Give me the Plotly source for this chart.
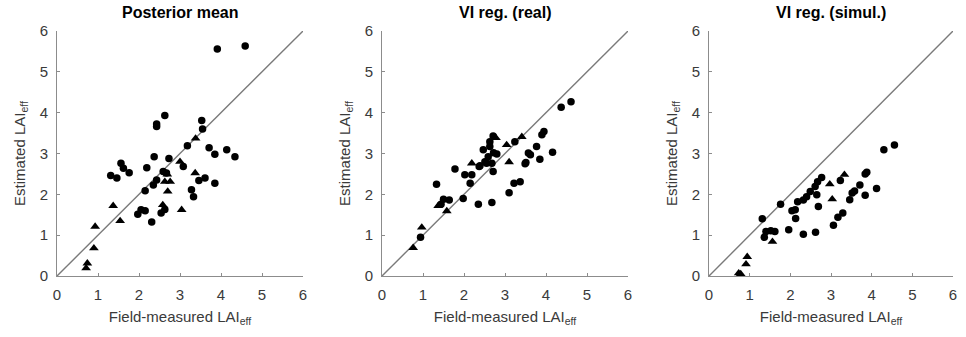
import plotly.graph_objects as go

titles = ["Posterior mean", "VI reg. (real)", "VI reg. (simul.)"]
tick_vals = [0, 1, 2, 3, 4, 5, 6]
tick_text = ["0", "1", "2", "3", "4", "5", "6"]

# Panel 1: Posterior mean
p1_circ_x = [3.91, 4.59, 2.63, 2.43, 2.43, 3.53, 3.55, 3.18, 3.71, 3.85, 4.14, 4.34, 2.37, 2.73,
             3.08, 1.56, 1.62, 1.76, 1.31, 1.46, 2.19, 2.59, 2.67, 3.46, 3.61, 3.85, 2.43, 2.35,
             2.15, 3.28, 3.33, 2.05, 2.15, 1.97, 2.63, 2.54, 2.31]
p1_circ_y = [5.56, 5.63, 3.93, 3.72, 3.66, 3.81, 3.60, 3.19, 3.14, 2.98, 3.09, 2.92, 2.92, 2.88,
             2.68, 2.76, 2.64, 2.53, 2.46, 2.40, 2.65, 2.56, 2.52, 2.34, 2.40, 2.27, 2.35, 2.23,
             2.09, 2.11, 1.94, 1.62, 1.60, 1.51, 1.63, 1.54, 1.32]
p1_tri_x = [3.38, 2.69, 3.37, 2.63, 2.76, 2.70, 1.37, 2.58, 3.04, 1.54, 0.93, 0.90, 0.74, 0.71, 3.00]
p1_tri_y = [3.37, 2.49, 2.52, 2.31, 2.31, 2.07, 1.72, 1.74, 1.62, 1.35, 1.21, 0.68, 0.31, 0.19, 2.80]

# Panel 2: VI reg. (real)
p2_circ_x = [4.61, 4.37, 3.95, 3.90, 3.24, 2.71, 2.63, 2.63, 2.47, 3.77, 4.16, 3.57, 3.62, 2.59,
             2.80, 2.72, 3.85, 3.51, 3.49, 2.51, 2.68, 2.55, 2.39, 2.37, 2.71, 1.78, 2.02, 2.19,
             2.15, 1.33, 3.37, 3.22, 3.10, 1.98, 1.50, 1.64, 1.44, 2.35, 2.68, 0.94]
p2_circ_y = [4.27, 4.13, 3.54, 3.46, 3.29, 3.43, 3.29, 3.17, 3.09, 3.17, 3.03, 3.01, 2.97, 2.92,
             2.99, 3.02, 2.86, 2.78, 2.75, 2.80, 2.76, 2.76, 2.70, 2.68, 2.56, 2.62, 2.48, 2.48,
             2.27, 2.25, 2.31, 2.27, 2.04, 1.90, 1.88, 1.86, 1.76, 1.76, 1.80, 0.95]
p2_tri_x = [3.41, 3.04, 2.78, 3.10, 2.19, 1.37, 1.58, 0.97, 0.76]
p2_tri_y = [3.41, 3.21, 3.38, 2.79, 2.76, 1.72, 1.59, 1.19, 0.69]

# Panel 3: VI reg. (simul.)
p3_circ_x = [4.56, 4.30, 3.88, 3.84, 3.23, 3.71, 3.58, 3.52, 4.12, 3.84, 3.46, 3.29, 3.17, 3.06,
             2.77, 2.67, 2.61, 2.49, 2.65, 2.40, 2.32, 2.18, 2.69, 2.04, 2.12, 2.13, 1.76, 1.31,
             1.96, 2.32, 2.62, 1.40, 1.52, 1.62, 1.36]
p3_circ_y = [3.21, 3.09, 2.54, 2.50, 2.34, 2.23, 2.08, 2.03, 2.14, 1.98, 1.87, 1.54, 1.44, 1.24,
             2.41, 2.31, 2.19, 2.07, 1.99, 1.94, 1.86, 1.82, 1.70, 1.60, 1.62, 1.41, 1.76, 1.40,
             1.13, 1.02, 1.07, 1.09, 1.11, 1.09, 0.95]
p3_tri_x = [3.33, 2.97, 3.03, 1.56, 0.94, 0.91, 0.73, 0.78]
p3_tri_y = [2.48, 2.25, 1.88, 0.84, 0.47, 0.29, 0.07, 0.05]

line_vals = [0, 6]

panels = [
    (p1_circ_x, p1_circ_y, p1_tri_x, p1_tri_y),
    (p2_circ_x, p2_circ_y, p2_tri_x, p2_tri_y),
    (p3_circ_x, p3_circ_y, p3_tri_x, p3_tri_y),
]

W, H = 966, 337
x_px = [(57, 303), (382, 628), (709, 953)]
y_px = (31, 276)

fig = go.Figure()
font_family = "Liberation Sans, Arial, sans-serif"
axis_color = "#8c8c8c"
text_color = "#3a3a3a"

for i, (cx, cy, tx, ty) in enumerate(panels):
    n = "" if i == 0 else str(i + 1)
    xa, ya = "x" + n, "y" + n
    fig.add_trace(go.Scatter(x=line_vals, y=line_vals, mode="lines",
                             line=dict(color="#7a7a7a", width=1.4),
                             xaxis=xa, yaxis=ya, showlegend=False, hoverinfo="skip"))
    fig.add_trace(go.Scatter(x=cx, y=cy, mode="markers",
                             marker=dict(symbol="circle", size=7.5, color="black"),
                             xaxis=xa, yaxis=ya, showlegend=False))
    fig.add_trace(go.Scatter(x=tx, y=ty, mode="markers",
                             marker=dict(symbol="triangle-up", size=8.5, color="black"),
                             xaxis=xa, yaxis=ya, showlegend=False))
    dom_x = [x_px[i][0] / W, x_px[i][1] / W]
    dom_y = [(H - y_px[1]) / H, (H - y_px[0]) / H]
    common = dict(range=[0, 6], tickvals=tick_vals, ticktext=tick_text, ticks="inside",
                  ticklen=3, tickcolor=axis_color, showline=True, linecolor=axis_color,
                  linewidth=1, showgrid=False, zeroline=False, mirror=False,
                  automargin=False, ticklabelstandoff=5,
                  tickfont=dict(size=15, color=text_color, family=font_family))
    fig.update_layout(**{
        ("xaxis" + n): dict(domain=dom_x, anchor=ya,
                            title=dict(text="Field-measured LAI<sub>eff</sub>", standoff=9,
                                       font=dict(size=15, color=text_color, family=font_family)),
                            **common),
        ("yaxis" + n): dict(domain=dom_y, anchor=xa,
                            title=dict(text="Estimated LAI<sub>eff</sub>", standoff=10,
                                       font=dict(size=15, color=text_color, family=font_family)),
                            **common),
    })
    fig.add_annotation(text="<b>" + titles[i] + "</b>", x=(dom_x[0] + dom_x[1]) / 2,
                       y=1 - 12 / H, xref="paper", yref="paper", showarrow=False,
                       font=dict(size=16, color="black", family=font_family),
                       xanchor="center", yanchor="middle")

fig.update_layout(width=W, height=H, margin=dict(l=0, r=0, t=0, b=0),
                  plot_bgcolor="white", paper_bgcolor="white")
fig.write_html("out.html")
